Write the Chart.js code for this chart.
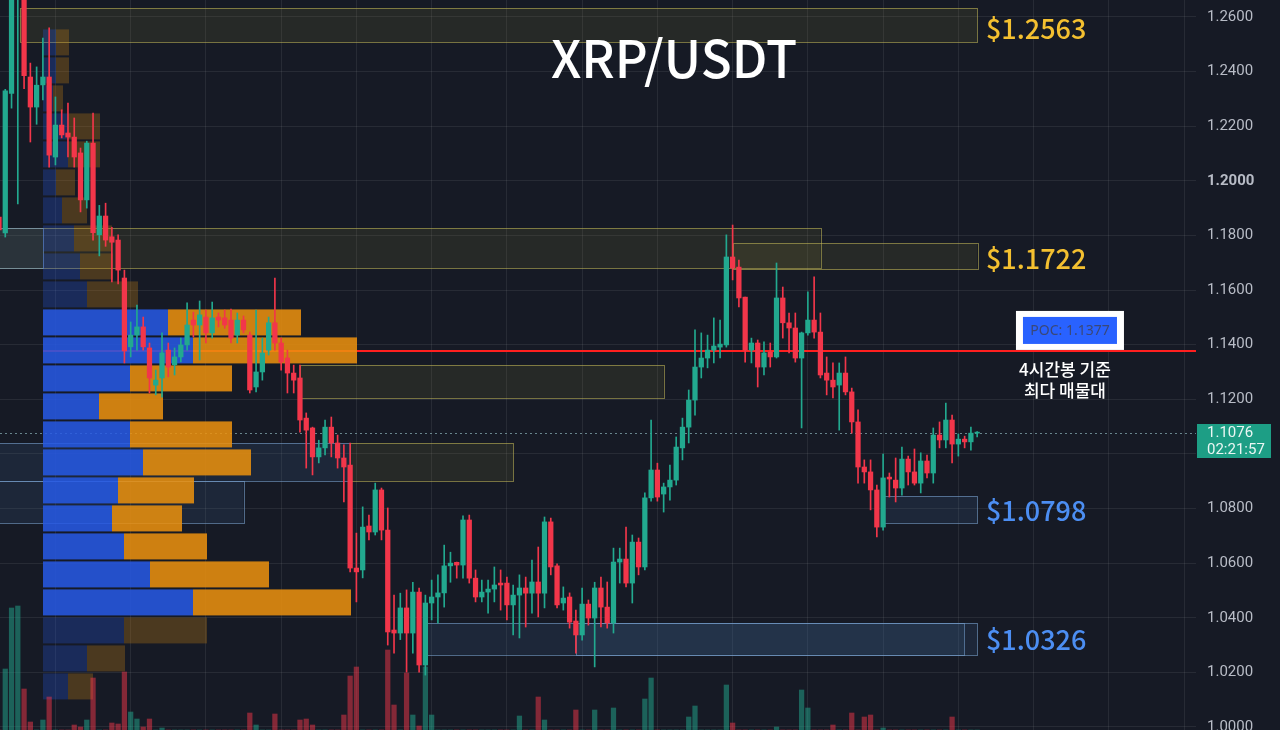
<!DOCTYPE html>
<html>
<head>
<meta charset="utf-8">
<script src="https://cdn.jsdelivr.net/npm/chart.js@4.4.1/dist/chart.umd.min.js"></script>
<style>
    html, body { margin: 0; padding: 0; background: #161a25; overflow: hidden; }
    canvas { display: block; }
</style>
</head>
<body>
<canvas id="xrpChart" width="1280" height="730"></canvas>
<script>
// 4h candles, oldest first
const opens = [
    1.1867, 1.1809, 1.2320, 1.2700, 1.2750, 1.2380, 1.2270, 1.2351, 1.2380, 1.2087,
    1.2204, 1.2175, 1.2160, 1.2102, 1.1930, 1.2138, 1.1802, 1.1871, 1.1795, 1.1783,
    1.1644, 1.1392, 1.1435, 1.1465, 1.1388, 1.1252, 1.1278, 1.1380, 1.1326, 1.1355,
    1.1399, 1.1490, 1.1472, 1.1501, 1.1443, 1.1501, 1.1498, 1.1490, 1.1435, 1.1490,
    1.1435, 1.1245, 1.1300, 1.1380, 1.1480, 1.1406, 1.1351, 1.1296, 1.1278, 1.1131,
    1.1095, 1.0989, 1.1022, 1.1098, 1.1040, 1.0985, 1.0959, 1.0582, 1.0575, 1.0736,
    1.0714, 1.0868, 1.0721, 1.0355, 1.0344, 1.0436, 1.0344, 1.0494, 1.0227, 1.0454,
    1.0476, 1.0491, 1.0590, 1.0603, 1.0593, 1.0758, 1.0545, 1.0476, 1.0494, 1.0505,
    1.0527, 1.0527, 1.0447, 1.0483, 1.0509, 1.0490, 1.0531, 1.0490, 1.0751, 1.0590,
    1.0454, 1.0476, 1.0388, 1.0337, 1.0450, 1.0399, 1.0509, 1.0439, 1.0381, 1.0604,
    1.0615, 1.0527, 1.0677, 1.0586, 1.0839, 1.0941, 1.0853, 1.0879, 1.0904, 1.1022,
    1.1098, 1.1197, 1.1318, 1.1351, 1.1380, 1.1391, 1.1399, 1.1721, 1.1684, 1.1574,
    1.1380, 1.1406, 1.1318, 1.1373, 1.1355, 1.1571, 1.1480, 1.1461, 1.1351, 1.1443,
    1.1490, 1.1446, 1.1296, 1.1270, 1.1252, 1.1296, 1.1227, 1.1117, 1.0952, 1.0934,
    1.0868, 1.0732, 1.0915, 1.0904, 1.0875, 1.0981, 1.0934, 1.0893, 1.0974, 1.0930,
    1.1069, 1.1051, 1.1124, 1.1036, 1.1054, 1.1044, 1.1076
];
const highs = [
    1.1900, 1.2335, 1.2800, 1.2900, 1.2800, 1.2431, 1.2417, 1.2523, 1.2560, 1.2307,
    1.2260, 1.2285, 1.2230, 1.2120, 1.2145, 1.2248, 1.1910, 1.1918, 1.1830, 1.1802,
    1.1673, 1.1483, 1.1545, 1.1501, 1.1406, 1.1307, 1.1443, 1.1406, 1.1388, 1.1424,
    1.1553, 1.1519, 1.1560, 1.1527, 1.1556, 1.1516, 1.1527, 1.1530, 1.1516, 1.1505,
    1.1446, 1.1527, 1.1424, 1.1501, 1.1644, 1.1424, 1.1380, 1.1325, 1.1325, 1.1150,
    1.1098, 1.1050, 1.1124, 1.1135, 1.1069, 1.1033, 1.1040, 1.0710, 1.0806, 1.0776,
    1.0893, 1.0875, 1.0802, 1.0483, 1.0490, 1.0502, 1.0530, 1.0509, 1.0483, 1.0538,
    1.0557, 1.0666, 1.0640, 1.0604, 1.0773, 1.0776, 1.0575, 1.0538, 1.0538, 1.0586,
    1.0575, 1.0549, 1.0520, 1.0557, 1.0549, 1.0611, 1.0659, 1.0769, 1.0765, 1.0597,
    1.0513, 1.0491, 1.0428, 1.0509, 1.0465, 1.0530, 1.0549, 1.0531, 1.0655, 1.0655,
    1.0732, 1.0703, 1.0692, 1.0857, 1.1124, 1.0966, 1.0893, 1.0959, 1.1062, 1.1131,
    1.1234, 1.1454, 1.1443, 1.1435, 1.1498, 1.1490, 1.1802, 1.1838, 1.1710, 1.1574,
    1.1424, 1.1417, 1.1410, 1.1406, 1.1699, 1.1611, 1.1516, 1.1516, 1.1446, 1.1593,
    1.1648, 1.1516, 1.1355, 1.1333, 1.1333, 1.1355, 1.1241, 1.1161, 1.0978, 1.0978,
    1.0886, 1.0999, 1.0930, 1.0985, 1.1025, 1.0992, 1.1018, 1.1004, 1.0996, 1.1095,
    1.1117, 1.1186, 1.1142, 1.1073, 1.1065, 1.1098, 1.1082
];
const lows = [
    1.1800, 1.1794, 1.2266, 1.1915, 1.2337, 1.2142, 1.2207, 1.2296, 1.2050, 1.2058,
    1.2157, 1.2087, 1.2050, 1.1886, 1.1900, 1.1783, 1.1725, 1.1760, 1.1630, 1.1622,
    1.1333, 1.1355, 1.1380, 1.1380, 1.1223, 1.1216, 1.1208, 1.1282, 1.1289, 1.1337,
    1.1380, 1.1428, 1.1344, 1.1406, 1.1424, 1.1465, 1.1460, 1.1406, 1.1406, 1.1443,
    1.1223, 1.1227, 1.1270, 1.1362, 1.1380, 1.1307, 1.1223, 1.1223, 1.1080, 1.0948,
    1.0923, 1.0967, 1.0996, 1.0989, 1.0948, 1.0824, 1.0568, 1.0458, 1.0546, 1.0685,
    1.0703, 1.0685, 1.0300, 1.0270, 1.0320, 1.0201, 1.0270, 1.0201, 1.0190, 1.0392,
    1.0380, 1.0439, 1.0530, 1.0545, 1.0545, 1.0527, 1.0458, 1.0458, 1.0417, 1.0458,
    1.0428, 1.0392, 1.0337, 1.0326, 1.0366, 1.0417, 1.0403, 1.0436, 1.0557, 1.0436,
    1.0428, 1.0362, 1.0270, 1.0318, 1.0373, 1.0220, 1.0366, 1.0362, 1.0344, 1.0527,
    1.0513, 1.0454, 1.0557, 1.0575, 1.0827, 1.0827, 1.0787, 1.0831, 1.0886, 1.0978,
    1.1040, 1.1142, 1.1278, 1.1315, 1.1333, 1.1351, 1.1391, 1.1637, 1.1538, 1.1336,
    1.1333, 1.1245, 1.1289, 1.1318, 1.1351, 1.1424, 1.1370, 1.1336, 1.1095, 1.1435,
    1.1424, 1.1278, 1.1216, 1.1205, 1.1087, 1.1216, 1.1076, 1.0893, 1.0893, 1.0795,
    1.0696, 1.0721, 1.0842, 1.0824, 1.0849, 1.0886, 1.0886, 1.0857, 1.0912, 1.0893,
    1.1022, 1.1022, 1.0967, 1.0992, 1.1022, 1.1014, 1.1062
];
const closes = [
    1.1820, 1.2329, 1.2720, 1.2850, 1.2385, 1.2270, 1.2350, 1.2380, 1.2094, 1.2204,
    1.2168, 1.2160, 1.2087, 1.1930, 1.2138, 1.1810, 1.1871, 1.1783, 1.1775, 1.1673,
    1.1377, 1.1435, 1.1465, 1.1392, 1.1278, 1.1270, 1.1370, 1.1318, 1.1355, 1.1399,
    1.1472, 1.1472, 1.1509, 1.1443, 1.1498, 1.1490, 1.1472, 1.1424, 1.1490, 1.1454,
    1.1234, 1.1300, 1.1369, 1.1480, 1.1406, 1.1336, 1.1296, 1.1270, 1.1124, 1.1087,
    1.0989, 1.1022, 1.1098, 1.1040, 1.0985, 1.0952, 1.0582, 1.0568, 1.0732, 1.0714,
    1.0868, 1.0721, 1.0348, 1.0344, 1.0436, 1.0344, 1.0494, 1.0227, 1.0454, 1.0476,
    1.0491, 1.0590, 1.0600, 1.0593, 1.0758, 1.0545, 1.0476, 1.0494, 1.0505, 1.0520,
    1.0520, 1.0447, 1.0483, 1.0509, 1.0490, 1.0531, 1.0490, 1.0751, 1.0586, 1.0447,
    1.0472, 1.0384, 1.0337, 1.0450, 1.0399, 1.0509, 1.0439, 1.0381, 1.0604, 1.0615,
    1.0527, 1.0677, 1.0586, 1.0839, 1.0941, 1.0842, 1.0879, 1.0904, 1.1025, 1.1098,
    1.1197, 1.1318, 1.1351, 1.1380, 1.1395, 1.1402, 1.1721, 1.1681, 1.1571, 1.1380,
    1.1406, 1.1318, 1.1370, 1.1355, 1.1571, 1.1480, 1.1461, 1.1351, 1.1443, 1.1490,
    1.1446, 1.1289, 1.1270, 1.1245, 1.1296, 1.1227, 1.1117, 1.0952, 1.0934, 1.0868,
    1.0732, 1.0912, 1.0908, 1.0875, 1.0981, 1.0934, 1.0893, 1.0974, 1.0930, 1.1069,
    1.1051, 1.1124, 1.1036, 1.1054, 1.1044, 1.1076, 1.1076
];
// only the taller bars poke into view, the rest of the volume pane is cut off
const volumes = [
    0, 61, 122, 124, 41, 8, 0, 10, 33, 0,
    0, 0, 5, 3, 10, 52, 0, 0, 7, 6,
    58, 18, 11, 3, 11, 0, 2, 0, 0, 0,
    0, 0, 0, 0, 0, 0, 0, 0, 0, 0,
    17, 5, 0, 0, 16, 0, 0, 0, 10, 11,
    5, 0, 0, 0, 0, 15, 54, 63, 0, 0,
    0, 0, 80, 25, 0, 57, 15, 4, 63, 15,
    0, 0, 0, 0, 0, 0, 0, 0, 0, 0,
    0, 0, 0, 14, 0, 0, 33, 10, 0, 0,
    0, 0, 20, 0, 0, 20, 0, 0, 22, 0,
    0, 0, 0, 31, 52, 0, 0, 0, 0, 0,
    13, 24, 0, 0, 0, 0, 45, 7, 0, 0,
    0, 0, 0, 0, 3, 0, 0, 0, 40, 22,
    0, 0, 0, 5, 0, 0, 17, 0, 13, 15,
    0, 2, 0, 0, 0, 0, 0, 0, 0, 0,
    0, 0, 13, 0, 0, 0, 0
];

// volume profile, rows from the top bin down
const profileTop = 1.2558;
const profileStep = 0.010253;
const profileBuy = [13, 13, 10, 25, 25, 13, 19, 31, 37, 44, 125, 150, 87, 56, 87, 100, 75, 69, 81, 107, 150, 81, 44, 25];
const profileSell = [13, 13, 10, 32, 32, 19, 25, 38, 33, 51, 133, 164, 102, 64, 102, 108, 76, 70, 83, 119, 158, 83, 38, 25];
const vaFrom = 10;
const vaTo = 20;

// zones (candle index range, price range)
const zoneFrom = [3.3, -1, 117, 48, 56, -1, -1, 141, 68, 92, -1];
const zoneTo = [156, 131, 156, 106, 82, 56, 39, 156, 154, 156, 7];
const zoneTop = [1.2633, 1.1827, 1.1771, 1.1326, 1.1040, 1.1040, 1.0901, 1.0846, 1.0381, 1.0381, 1.1827];
const zoneBottom = [1.2508, 1.1680, 1.1674, 1.1205, 1.0901, 1.0901, 1.0747, 1.0747, 1.0264, 1.0264, 1.1680];
const zoneKind = ['res', 'res', 'res', 'res', 'res', 'sup', 'sup', 'sup', 'sup', 'sup', 'sup'];

const levelPrices = [1.2563, 1.1722, 1.0798, 1.0326];
const levelKind = ['res', 'res', 'sup', 'sup'];

const pocPrice = 1.1377;
const lastPrice = 1.1076;
const countdown = '02:21:57';

const yTicks = [1.00, 1.02, 1.04, 1.06, 1.08, 1.10, 1.12, 1.14, 1.16, 1.18, 1.20, 1.22, 1.24, 1.26];
const gridIdx = [9, 21, 33, 45, 57, 69, 81, 93, 105, 117, 129, 141, 153, 165, 177, 189];

const UP = '#22a98f';
const DOWN = '#f2364a';
const GRID = 'rgba(255, 255, 255, 0.075)';

const idx = opens.map((_, i) => i);
const isUp = i => closes[i] >= opens[i];
const candleColor = c => isUp(c.dataIndex) ? UP : DOWN;

const overlay = {
    id: 'overlay',
    beforeDatasetsDraw(chart) {
        const { ctx, chartArea: a } = chart;
        const { x, y, xp } = chart.scales;
        ctx.save();
        ctx.beginPath();
        ctx.rect(a.left, a.top, a.right - a.left, a.bottom - a.top);
        ctx.clip();

        zoneFrom.forEach((f, k) => {
            const x1 = x.getPixelForValue(f);
            const x2 = x.getPixelForValue(zoneTo[k]);
            const y1 = y.getPixelForValue(zoneTop[k]);
            const y2 = y.getPixelForValue(zoneBottom[k]);
            const res = zoneKind[k] === 'res';
            ctx.fillStyle = res ? 'rgba(140, 135, 60, 0.14)' : 'rgba(70, 110, 160, 0.16)';
            ctx.fillRect(x1, y1, x2 - x1, y2 - y1);
            ctx.strokeStyle = res ? 'rgba(200, 190, 90, 0.55)' : 'rgba(120, 160, 205, 0.6)';
            ctx.lineWidth = 1;
            ctx.strokeRect(Math.round(x1) + 0.5, Math.round(y1) + 0.5, Math.round(x2 - x1), Math.round(y2 - y1));
        });

        // current price dotted line
        const yl = Math.round(y.getPixelForValue(lastPrice)) + 0.5;
        ctx.setLineDash([2, 3]);
        ctx.strokeStyle = 'rgba(140, 180, 185, 0.7)';
        ctx.lineWidth = 1;
        ctx.beginPath();
        ctx.moveTo(a.left, yl);
        ctx.lineTo(a.right, yl);
        ctx.stroke();
        ctx.setLineDash([]);

        // POC line
        const yp = y.getPixelForValue(pocPrice);
        ctx.strokeStyle = '#ff1f1f';
        ctx.lineWidth = 2;
        ctx.beginPath();
        ctx.moveTo(xp.getPixelForValue(0), yp);
        ctx.lineTo(a.right, yp);
        ctx.stroke();

        // volume profile
        const x0 = xp.getPixelForValue(0);
        profileBuy.forEach((b, k) => {
            const top = y.getPixelForValue(profileTop - k * profileStep) + 1;
            const bot = y.getPixelForValue(profileTop - (k + 1) * profileStep) - 1;
            const va = k >= vaFrom && k <= vaTo;
            const x1 = xp.getPixelForValue(b);
            const x2 = xp.getPixelForValue(b + profileSell[k]);
            ctx.fillStyle = va ? 'rgba(38, 90, 229, 0.86)' : 'rgba(38, 90, 229, 0.28)';
            ctx.fillRect(x0, top, x1 - x0, bot - top);
            ctx.fillStyle = va ? 'rgba(236, 146, 14, 0.86)' : 'rgba(200, 128, 20, 0.3)';
            ctx.fillRect(x1, top, x2 - x1, bot - top);
        });
        ctx.restore();
    },
    afterDatasetsDraw(chart) {
        const { ctx, chartArea: a } = chart;
        const { x, y } = chart.scales;
        ctx.save();

        ctx.fillStyle = '#ffffff';
        ctx.textAlign = 'center';
        ctx.textBaseline = 'middle';
        ctx.font = '500 51px "Noto Sans CJK KR", "Noto Sans", sans-serif';
        ctx.fillText('XRP/USDT', 674, 59);

        // level labels
        ctx.textAlign = 'left';
        ctx.font = '500 27px "Noto Sans CJK KR", "Noto Sans", sans-serif';
        const lx = x.getPixelForValue(157.4);
        levelPrices.forEach((p, k) => {
            ctx.fillStyle = levelKind[k] === 'res' ? '#f4c030' : '#4c8ef2';
            ctx.fillText('$' + p.toFixed(4), lx, y.getPixelForValue(p) + 2);
        });

        // POC tag
        const cx = x.getPixelForValue(170.8);
        const yp = y.getPixelForValue(pocPrice);
        ctx.fillStyle = '#ffffff';
        ctx.fillRect(cx - 54, yp - 40, 108, 39);
        ctx.fillStyle = '#2962ff';
        ctx.fillRect(cx - 47, yp - 34, 94, 27);
        ctx.fillStyle = '#3a4878';
        ctx.textAlign = 'center';
        ctx.font = '14px "Noto Sans", sans-serif';
        ctx.fillText('POC: ' + pocPrice.toFixed(4), cx, yp - 20);

        ctx.fillStyle = '#ffffff';
        ctx.font = '500 17px "Noto Sans CJK KR", sans-serif';
        ctx.fillText('4시간봉 기준', cx - 5, yp + 19);
        ctx.fillText('최다 매물대', cx - 5, yp + 40);

        // last price tag on the axis
        const yl = Math.round(y.getPixelForValue(lastPrice));
        ctx.fillStyle = '#1d9e85';
        ctx.fillRect(a.right + 1, yl - 9, 74, 34);
        ctx.fillStyle = '#eaf6f3';
        ctx.textAlign = 'left';
        ctx.font = '15px Roboto, sans-serif';
        ctx.fillText(lastPrice.toFixed(4), a.right + 11, yl + 0.5);
        ctx.fillText(countdown, a.right + 11, yl + 17);
        ctx.restore();
    }
};

const ctx = document.getElementById('xrpChart').getContext('2d');

new Chart(ctx, {
    type: 'bar',
    data: {
        datasets: [
            {
                label: 'Body',
                data: idx.map(i => ({ x: i, y: [Math.min(opens[i], closes[i]), Math.max(opens[i], closes[i])] })),
                backgroundColor: candleColor,
                barThickness: 4.6,
                minBarLength: 1,
                grouped: false,
                order: 1,
            },
            {
                label: 'Wick',
                data: idx.map(i => ({ x: i, y: [lows[i], highs[i]] })),
                backgroundColor: candleColor,
                barThickness: 1,
                grouped: false,
                order: 2,
            },
            {
                label: 'Volume',
                data: idx.map(i => ({ x: i, y: volumes[i] })),
                yAxisID: 'yv',
                backgroundColor: c => isUp(c.dataIndex) ? 'rgba(34, 169, 143, 0.5)' : 'rgba(242, 54, 74, 0.5)',
                barThickness: 4.6,
                grouped: false,
                order: 3,
            },
        ],
    },
    options: {
        responsive: false,
        maintainAspectRatio: false,
        animation: false,
        layout: { padding: 0 },
        plugins: {
            legend: { display: false },
            tooltip: { enabled: false },
        },
        scales: {
            x: {
                type: 'linear',
                min: 0.16,
                max: 190.9,
                offset: false,
                afterBuildTicks: s => { s.ticks = gridIdx.map(v => ({ value: v })); },
                ticks: { display: false },
                grid: { color: GRID, drawTicks: false, offset: false },
                border: { display: false },
            },
            xp: {
                type: 'linear',
                display: false,
                offset: false,
                min: -43,
                max: 1153,
            },
            y: {
                type: 'linear',
                position: 'right',
                min: 0.9989,
                max: 1.2662,
                afterBuildTicks: s => { s.ticks = yTicks.map(v => ({ value: v })); },
                afterFit: s => {
                    s.width = 84;
                    s.paddingTop = 0;
                    s.paddingBottom = 0;
                },
                ticks: {
                    color: '#b8bcc6',
                    padding: 11,
                    font: c => ({
                        family: 'Roboto, sans-serif',
                        size: 15,
                        weight: c.tick && c.tick.value === 1.2 ? 'bold' : 'normal',
                    }),
                    callback: v => v.toFixed(4),
                },
                grid: { color: GRID, drawTicks: false },
                border: { display: false },
            },
            yv: {
                type: 'linear',
                display: false,
                min: 0,
                max: 730,
            },
        },
    },
    plugins: [overlay],
});
</script>
</body>
</html>
